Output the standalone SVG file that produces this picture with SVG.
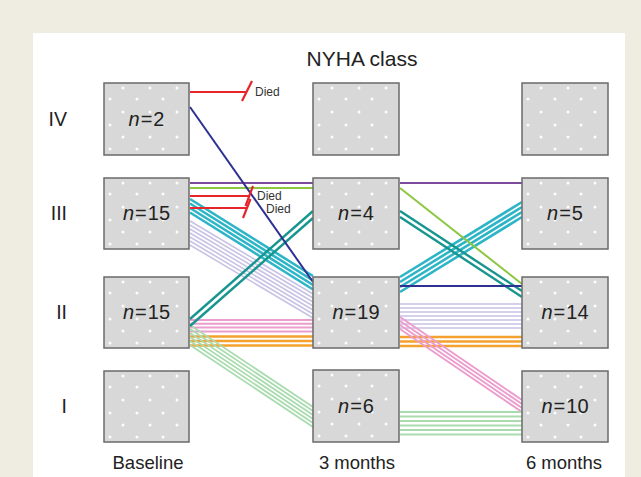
<svg xmlns="http://www.w3.org/2000/svg" xmlns:xlink="http://www.w3.org/1999/xlink" width="641" height="477" viewBox="0 0 641 477">
<style>
.box{fill:#d8d8d8;stroke:#6a6a6a;stroke-width:1.5}
.dot{fill:#ffffff;opacity:0.95}
.ntx{font-family:"Liberation Sans",Arial,sans-serif;font-size:20px;fill:#222;text-anchor:middle}
.lbl{font-family:"Liberation Sans",Arial,sans-serif;font-size:19.5px;fill:#222}
.died{font-family:"Liberation Sans",Arial,sans-serif;font-size:12px;fill:#333}
line{fill:none}
.lav line{stroke:#c8c2e4;stroke-width:1.6}
.pink line{stroke:#ec9ccd;stroke-width:2}
.org line{stroke:#f5a12e;stroke-width:2.4}
.lgr line{stroke:#a9dbae;stroke-width:1.8}
.cyan line{stroke:#2db5c7;stroke-width:2.6}
.teal line{stroke:#17958f;stroke-width:2.4}
.grn{stroke:#8dc641;stroke-width:2}
.pur{stroke:#7d4b9c;stroke-width:2}
.navy{stroke:#2e3192;stroke-width:2}
.red{stroke:#e5262b;stroke-width:2.2}
</style>
<defs>
<g id="dots">
<circle class="dot" cx="19" cy="5" r="1.5"/><circle class="dot" cx="46" cy="5" r="1.5"/><circle class="dot" cx="73" cy="5" r="1.5"/>
<circle class="dot" cx="6" cy="16" r="1.5"/><circle class="dot" cx="33" cy="16" r="1.5"/><circle class="dot" cx="59" cy="16" r="1.5"/>
<circle class="dot" cx="19" cy="29" r="1.5"/><circle class="dot" cx="46" cy="29" r="1.5"/><circle class="dot" cx="73" cy="29" r="1.5"/>
<circle class="dot" cx="6" cy="42" r="1.5"/><circle class="dot" cx="33" cy="42" r="1.5"/><circle class="dot" cx="59" cy="42" r="1.5"/>
<circle class="dot" cx="19" cy="54" r="1.5"/><circle class="dot" cx="46" cy="54" r="1.5"/><circle class="dot" cx="73" cy="54" r="1.5"/>
<circle class="dot" cx="6" cy="66" r="1.5"/><circle class="dot" cx="33" cy="66" r="1.5"/><circle class="dot" cx="59" cy="66" r="1.5"/>
</g>
</defs>
<rect x="0" y="0" width="641" height="477" fill="#efece2"/>
<rect x="33" y="33" width="592" height="444" fill="#ffffff"/>
<text x="362" y="66" font-family="Liberation Sans, Arial, sans-serif" font-size="21" fill="#222" text-anchor="middle">NYHA class</text>
<g id="rowlabels" class="lbl" text-anchor="end">
<text x="67" y="126">IV</text>
<text x="67" y="220">III</text>
<text x="67" y="319">II</text>
<text x="67" y="413">I</text>
</g>
<g id="collabels" font-family="Liberation Sans, Arial, sans-serif" font-size="18.5" fill="#222" text-anchor="middle">
<text x="148" y="469">Baseline</text>
<text x="357" y="469">3 months</text>
<text x="564" y="469">6 months</text>
</g>
<g id="connectors">
<g class="lav">
<line x1="190" y1="221" x2="313" y2="294"/><line x1="190" y1="225" x2="313" y2="298"/><line x1="190" y1="229" x2="313" y2="302"/><line x1="190" y1="233" x2="313" y2="306"/><line x1="190" y1="237" x2="313" y2="310"/><line x1="190" y1="241" x2="313" y2="314"/><line x1="190" y1="245" x2="313" y2="318"/>
<line x1="400" y1="304" x2="522" y2="304"/><line x1="400" y1="308" x2="522" y2="308"/><line x1="400" y1="312" x2="522" y2="312"/><line x1="400" y1="316" x2="522" y2="316"/><line x1="400" y1="320" x2="522" y2="320"/><line x1="400" y1="324" x2="522" y2="324"/><line x1="400" y1="328" x2="522" y2="328"/>
</g>
<g class="pink">
<line x1="190" y1="320" x2="313" y2="320"/><line x1="190" y1="323.8" x2="313" y2="323.8"/><line x1="190" y1="327.6" x2="313" y2="327.6"/><line x1="190" y1="331.4" x2="313" y2="331.4"/>
</g>
<g class="org">
<line x1="190" y1="336.5" x2="313" y2="336.5"/><line x1="190" y1="341" x2="313" y2="341"/><line x1="190" y1="345.5" x2="313" y2="345.5"/>
<line x1="400" y1="337" x2="522" y2="337"/><line x1="400" y1="341.5" x2="522" y2="341.5"/><line x1="400" y1="346" x2="522" y2="346"/>
</g>
<g class="pink">
<line x1="400" y1="317" x2="522" y2="400"/><line x1="400" y1="321" x2="522" y2="404"/><line x1="400" y1="325" x2="522" y2="408"/><line x1="400" y1="329" x2="522" y2="412"/>
</g>
<g class="lgr">
<line x1="190" y1="325" x2="313" y2="407"/><line x1="190" y1="329" x2="313" y2="411"/><line x1="190" y1="333" x2="313" y2="415"/><line x1="190" y1="337" x2="313" y2="419"/><line x1="190" y1="341" x2="313" y2="423"/><line x1="190" y1="345" x2="313" y2="427"/>
<line x1="400" y1="412" x2="522" y2="412"/><line x1="400" y1="416.5" x2="522" y2="416.5"/><line x1="400" y1="421" x2="522" y2="421"/><line x1="400" y1="425.5" x2="522" y2="425.5"/><line x1="400" y1="430" x2="522" y2="430"/><line x1="400" y1="434.5" x2="522" y2="434.5"/>
</g>
<g class="cyan">
<line x1="190" y1="199" x2="313" y2="276"/><line x1="190" y1="203.5" x2="313" y2="280.5"/><line x1="190" y1="208" x2="313" y2="285"/><line x1="190" y1="212.5" x2="313" y2="289.5"/>
<line x1="400" y1="277" x2="522" y2="202"/><line x1="400" y1="282" x2="522" y2="207"/><line x1="400" y1="287" x2="522" y2="212"/><line x1="400" y1="292" x2="522" y2="217"/>
</g>
<g class="teal">
<line x1="190" y1="319" x2="313" y2="211"/><line x1="190" y1="326" x2="313" y2="218"/>
<line x1="400" y1="211" x2="522" y2="291"/><line x1="400" y1="217" x2="522" y2="297"/>
</g>
<line class="grn" x1="190" y1="188" x2="313" y2="188"/>
<line class="grn" x1="400" y1="188" x2="522" y2="284"/>
<line class="pur" x1="190" y1="183" x2="313" y2="183"/>
<line class="pur" x1="400" y1="183" x2="522" y2="183"/>
<line class="navy" x1="190" y1="107" x2="313" y2="282"/>
<line class="navy" x1="400" y1="286" x2="522" y2="286"/>
<line class="red" x1="190" y1="92" x2="247" y2="92"/>
<line class="red" x1="242" y1="101" x2="252" y2="81"/>
<line class="red" x1="190" y1="196" x2="250" y2="196"/>
<line class="red" x1="245.5" y1="206" x2="253" y2="186"/>
<line class="red" x1="190" y1="208" x2="247" y2="208"/>
<line class="red" x1="243" y1="218" x2="250.5" y2="199"/>
<text class="died" x="255" y="96">Died</text>
<text class="died" x="257" y="200">Died</text>
<text class="died" x="266" y="213">Died</text>
</g>
<g id="base-IV"><rect class="box" x="104" y="83" width="85" height="72"/><use xlink:href="#dots" x="104" y="83"/><text class="ntx" x="146.5" y="126"><tspan font-style="italic">n</tspan><tspan dx="1">=</tspan><tspan dx="1">2</tspan></text></g>
<g id="base-III"><rect class="box" x="104" y="178" width="85" height="71"/><use xlink:href="#dots" x="104" y="178"/><text class="ntx" x="146.5" y="220"><tspan font-style="italic">n</tspan><tspan dx="1">=</tspan><tspan dx="1">15</tspan></text></g>
<g id="base-II"><rect class="box" x="104" y="277" width="85" height="71"/><use xlink:href="#dots" x="104" y="277"/><text class="ntx" x="146.5" y="319"><tspan font-style="italic">n</tspan><tspan dx="1">=</tspan><tspan dx="1">15</tspan></text></g>
<g id="base-I"><rect class="box" x="104" y="371" width="85" height="71"/><use xlink:href="#dots" x="104" y="371"/></g>
<g id="m3-IV"><rect class="box" x="313" y="83" width="86" height="72"/><use xlink:href="#dots" x="313" y="83"/></g>
<g id="m3-III"><rect class="box" x="313" y="178" width="86" height="71"/><use xlink:href="#dots" x="313" y="178"/><text class="ntx" x="356" y="220"><tspan font-style="italic">n</tspan><tspan dx="1">=</tspan><tspan dx="1">4</tspan></text></g>
<g id="m3-II"><rect class="box" x="313" y="277" width="86" height="71"/><use xlink:href="#dots" x="313" y="277"/><text class="ntx" x="356" y="319"><tspan font-style="italic">n</tspan><tspan dx="1">=</tspan><tspan dx="1">19</tspan></text></g>
<g id="m3-I"><rect class="box" x="313" y="370" width="86" height="72"/><use xlink:href="#dots" x="313" y="370"/><text class="ntx" x="356" y="413"><tspan font-style="italic">n</tspan><tspan dx="1">=</tspan><tspan dx="1">6</tspan></text></g>
<g id="m6-IV"><rect class="box" x="522" y="83" width="86" height="72"/><use xlink:href="#dots" x="522" y="83"/></g>
<g id="m6-III"><rect class="box" x="522" y="178" width="86" height="71"/><use xlink:href="#dots" x="522" y="178"/><text class="ntx" x="565" y="220"><tspan font-style="italic">n</tspan><tspan dx="1">=</tspan><tspan dx="1">5</tspan></text></g>
<g id="m6-II"><rect class="box" x="522" y="277" width="86" height="71"/><use xlink:href="#dots" x="522" y="277"/><text class="ntx" x="565" y="319"><tspan font-style="italic">n</tspan><tspan dx="1">=</tspan><tspan dx="1">14</tspan></text></g>
<g id="m6-I"><rect class="box" x="522" y="371" width="86" height="71"/><use xlink:href="#dots" x="522" y="371"/><text class="ntx" x="565" y="413"><tspan font-style="italic">n</tspan><tspan dx="1">=</tspan><tspan dx="1">10</tspan></text></g>
</svg>
